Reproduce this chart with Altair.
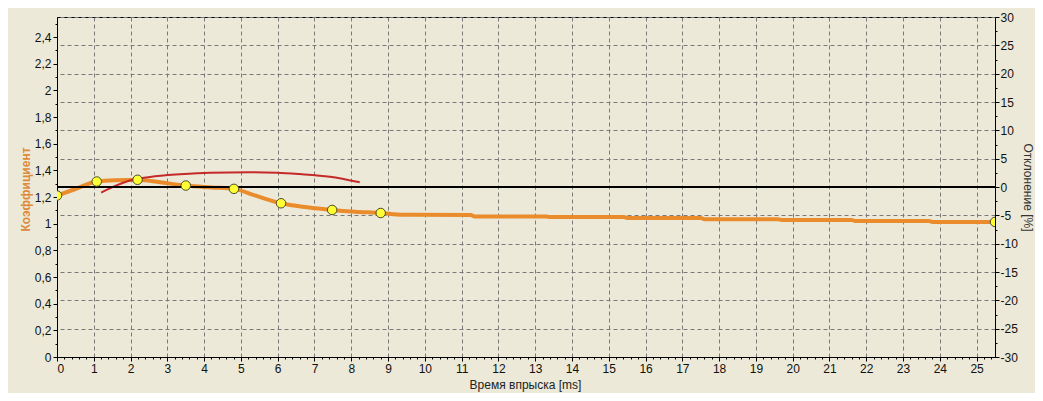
import altair as alt
import pandas as pd

# ---- data ----
time_orange = [0, 0.5, 1.08, 1.6, 2.19, 2.8, 3.5, 4.2, 4.81, 5.4, 6.09, 6.8, 7.48, 8.1, 8.8,
               9.4, 11.25, 11.35, 13.3, 13.4, 15.4, 15.5, 17.5, 17.6, 19.6, 19.7, 21.6, 21.7,
               23.7, 23.8, 25.5]
coef_orange = [1.211, 1.26, 1.316, 1.326, 1.329, 1.31, 1.286, 1.272, 1.261, 1.21, 1.153, 1.123,
               1.103, 1.09, 1.080, 1.067, 1.065, 1.054, 1.054, 1.050, 1.050, 1.043, 1.043, 1.033,
               1.033, 1.028, 1.028, 1.020, 1.020, 1.013, 1.013]
time_points = [0, 1.08, 2.19, 3.5, 4.81, 6.09, 7.48, 8.8, 25.5]
coef_points = [1.211, 1.316, 1.329, 1.286, 1.261, 1.153, 1.103, 1.080, 1.013]
time_red = [1.20, 1.58, 1.98, 2.53, 3.34, 4.16, 5.24, 5.98, 6.60, 7.42, 8.23]
coef_red = [1.233, 1.283, 1.324, 1.350, 1.370, 1.382, 1.385, 1.382, 1.372, 1.352, 1.310]
deviation_ref = [0]

x_ticks = [round(i * 0.2, 1) for i in range(0, 128)]
y_left_ticks = [round(i * 0.1, 1) for i in range(0, 26)]
y_right_ticks = [-30 + 2.5 * i for i in range(25)]

X_DOMAIN = [0, 25.5]
Y_LEFT = [0, 2.55]
Y_RIGHT = [-30, 30]

BG = "#ECE9D8"
ORANGE = "#EA8B2C"
RED = "#C42A2A"
FONT = "Liberation Sans"

df_orange = pd.DataFrame({"t": time_orange, "c": coef_orange})
df_points = pd.DataFrame({"t": time_points, "c": coef_points})
df_red = pd.DataFrame({"t": time_red, "c": coef_red})
df_dev = pd.DataFrame({"d": deviation_ref})

is_int_x = "abs(datum.value - round(datum.value)) < 0.001"
x_axis = alt.Axis(
    values=x_ticks,
    labelExpr="abs(datum.value - round(datum.value)) < 0.001 ? toString(round(datum.value)) : ''",
    tickSize={"condition": {"test": is_int_x, "value": 4}, "value": 2},
    gridOpacity={"condition": {"test": is_int_x, "value": 1}, "value": 0},
    grid=True,
    title="Время впрыска [ms]",
    titleX=468, titleY=27, titleBaseline="middle",
    labelPadding=2,
)
x_enc = alt.X("t:Q", scale=alt.Scale(domain=X_DOMAIN, nice=False, zero=False), axis=x_axis)

is_even_left = "round(datum.value * 10) % 2 == 0 && datum.value < 2.45"
left_axis = alt.Axis(
    values=y_left_ticks,
    labelExpr="(round(datum.value * 10) % 2 == 0 && datum.value < 2.45) ? replace(toString(round(datum.value * 10) / 10), '.', ',') : ''",
    tickSize={"condition": {"test": is_even_left, "value": 4}, "value": 2},
    grid=False,
    title="Коэффициент",
    titleColor="#DD8A3A",
    titleFontWeight="bold",
    titleFontSize=12,
    titleAngle=-90,
    titleX=-32, titleY=172, titleAlign="center", titleBaseline="middle",
    labelPadding=2,
)
y_left = alt.Y("c:Q", scale=alt.Scale(domain=Y_LEFT, nice=False, zero=False), axis=left_axis)

is_five = "abs(datum.value % 5) < 0.001"
right_axis = alt.Axis(
    orient="right",
    values=y_right_ticks,
    labelExpr="abs(datum.value % 5) < 0.001 ? toString(datum.value) : ''",
    tickSize={"condition": {"test": is_five, "value": 4}, "value": 2},
    grid=True,
    gridOpacity={"condition": {"test": is_five, "value": 1}, "value": 0},
    title="Отклонение [%]",
    titleAngle=90,
    titleX=32, titleY=170, titleAlign="center", titleBaseline="middle",
    titleColor="#333333", titleFontWeight="normal", titleFontSize=12,
    labelPadding=1,
)

orange = alt.Chart(df_orange).mark_line(
    color=ORANGE, strokeWidth=4, interpolate="monotone", clip=True
).encode(x=x_enc, y=y_left)

red = alt.Chart(df_red).mark_line(
    color=RED, strokeWidth=2, interpolate="monotone", clip=True
).encode(x=x_enc, y=y_left)

left = alt.layer(orange, red)

rule = alt.Chart(df_dev).mark_rule(color="black", strokeWidth=2).encode(
    y=alt.Y("d:Q", scale=alt.Scale(domain=Y_RIGHT, nice=False, zero=False), axis=right_axis)
)

points = alt.Chart(df_points).mark_point(
    filled=True, fill="#FFFF33", stroke="#4A4A2A", strokeWidth=1, size=90, opacity=1, clip=True
).encode(
    x=x_enc,
    y=alt.Y("c:Q", scale=alt.Scale(domain=Y_LEFT, nice=False, zero=False), axis=None),
)

chart = alt.layer(left, rule, points).resolve_scale(y="independent").properties(
    width=938,
    height=340,
    autosize=alt.AutoSizeParams(type="none"),
    padding={"left": 49, "top": 9, "right": 40, "bottom": 36},
    background=BG,
).configure_view(
    stroke="black", strokeWidth=1, fill=BG
).configure_axis(
    domainColor="black",
    tickColor="black",
    labelColor="#111111",
    labelFont=FONT,
    labelFontSize=12,
    titleFont=FONT,
    titleFontSize=12,
    titleFontWeight="normal",
    titleColor="#222222",
    gridColor="#7A7A7A",
    gridDash=[4, 3],
    gridWidth=1,
)

chart.save("out.html", embed_options={"renderer": "svg", "actions": False})
